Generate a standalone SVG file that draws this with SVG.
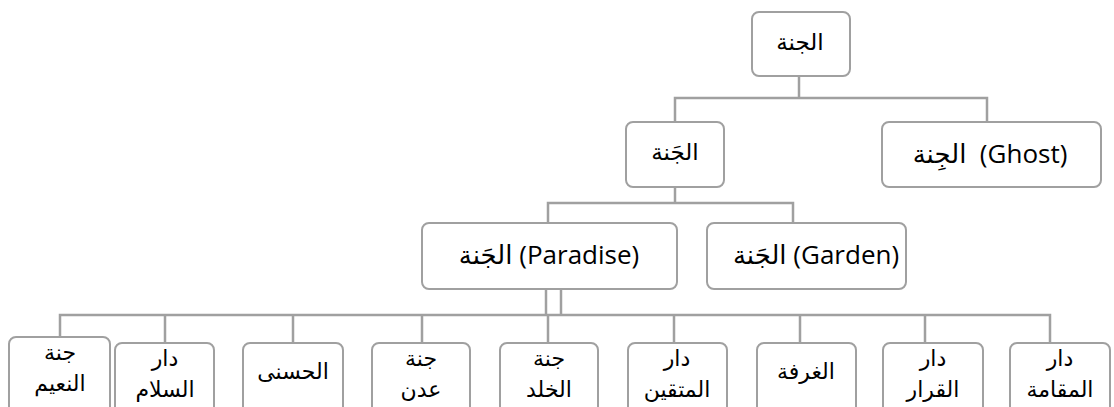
<svg xmlns="http://www.w3.org/2000/svg" width="1114" height="407" viewBox="0 0 1114 407">
  <style>
    .box { fill: #ffffff; stroke: #a0a0a0; stroke-width: 2; }
    .wire { stroke: #a0a0a0; stroke-width: 2.5; fill: none; }
    .lbl { font-family: "Liberation Sans", "DejaVu Sans", sans-serif; fill: #000000; text-anchor: middle; }
    .mix { font-family: "Open Sans", "DejaVu Sans", sans-serif; font-size: 26px; }
    .ar { font-size: 23px; }
    .leaf { font-size: 22px; }
  </style>
  <rect width="1114" height="407" fill="#ffffff"/>

  <g id="connectors">
    <!-- root to level 2 -->
    <path class="wire" d="M799 76 V98" stroke-width="3.5"/>
    <path class="wire" d="M675 122 V98 H987 V122"/>
    <!-- level 2 to level 3 -->
    <path class="wire" d="M675 187 V203"/>
    <path class="wire" d="M548 223 V203 H793 V223"/>
    <!-- Paradise to leaves -->
    <path class="wire" d="M546 289 V315" stroke-width="6"/>
    <path class="wire" d="M561 289 V315"/>
    <path class="wire" d="M60 337 V315 H1050 V343"/>
    <path class="wire" d="M165 315 V343 M293 315 V343 M422 315 V343 M548 315 V343 M674 315 V343 M800 315 V343 M925 315 V343"/>
  </g>

  <g id="root">
    <rect class="box" x="752" y="12" width="98" height="64" rx="7"/>
    <text class="lbl ar" x="800" y="50">الجنة</text>
  </g>

  <g id="jannah">
    <rect class="box" x="626" y="122" width="98" height="65" rx="7"/>
    <text class="lbl ar" x="675" y="160">الجَنة</text>
  </g>

  <g id="ghost">
    <rect class="box" x="882" y="122" width="219" height="65" rx="7"/>
    <text class="lbl mix" x="990" y="163" xml:space="preserve">الجِنة  (Ghost)</text>
  </g>

  <g id="paradise">
    <rect class="box" x="422" y="223" width="255" height="66" rx="7"/>
    <text class="lbl mix" x="549" y="264">الجَنة (Paradise)</text>
  </g>

  <g id="garden">
    <rect class="box" x="707" y="223" width="199" height="66" rx="7"/>
    <text class="lbl mix" x="816" y="264">الجَنة (Garden)</text>
  </g>

  <g id="naeem">
    <rect class="box" x="9" y="337" width="101" height="90" rx="7"/>
    <text class="lbl leaf" x="60" y="360">جنة</text>
    <text class="lbl leaf" x="60" y="391">النعيم</text>
  </g>

  <g id="salam">
    <rect class="box" x="115" y="343" width="99" height="90" rx="7"/>
    <text class="lbl leaf" x="165" y="366">دار</text>
    <text class="lbl leaf" x="165" y="397">السلام</text>
  </g>

  <g id="husna">
    <rect class="box" x="243" y="343" width="100" height="90" rx="7"/>
    <text class="lbl leaf" x="293" y="379">الحسنى</text>
  </g>

  <g id="adn">
    <rect class="box" x="372" y="343" width="98" height="90" rx="7"/>
    <text class="lbl leaf" x="421" y="366">جنة</text>
    <text class="lbl leaf" x="421" y="397">عدن</text>
  </g>

  <g id="khuld">
    <rect class="box" x="500" y="343" width="98" height="90" rx="7"/>
    <text class="lbl leaf" x="549" y="366">جنة</text>
    <text class="lbl leaf" x="549" y="397">الخلد</text>
  </g>

  <g id="muttaqin">
    <rect class="box" x="628" y="343" width="99" height="90" rx="7"/>
    <text class="lbl leaf" x="677" y="366">دار</text>
    <text class="lbl leaf" x="677" y="397">المتقين</text>
  </g>

  <g id="ghurfa">
    <rect class="box" x="757" y="343" width="99" height="90" rx="7"/>
    <text class="lbl leaf" x="806" y="379">الغرفة</text>
  </g>

  <g id="qarar">
    <rect class="box" x="883" y="343" width="100" height="90" rx="7"/>
    <text class="lbl leaf" x="933" y="366">دار</text>
    <text class="lbl leaf" x="933" y="397">القرار</text>
  </g>

  <g id="muqama">
    <rect class="box" x="1010" y="343" width="100" height="90" rx="7"/>
    <text class="lbl leaf" x="1060" y="366">دار</text>
    <text class="lbl leaf" x="1060" y="397">المقامة</text>
  </g>
</svg>
